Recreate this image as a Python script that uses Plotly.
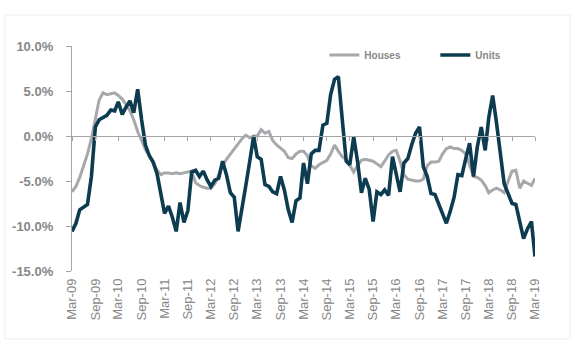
import plotly.graph_objects as go
import pandas as pd

months = pd.date_range("2009-03-01", periods=121, freq="MS")

houses = [
    -6.2, -5.6, -4.6, -3.4, -2.0, -0.3, 2.0, 4.0, 4.8, 4.6,
    4.7, 4.8, 4.5, 4.1, 3.5, 2.8, 1.8, 0.5, -0.5, -1.5,
    -2.2, -3.0, -3.8, -4.3, -4.1, -4.1, -4.2, -4.1, -4.2, -4.1,
    -4.0, -3.9, -5.2, -5.5, -5.7, -5.8, -5.8, -5.3, -4.3, -3.3,
    -2.6, -2.0, -1.4, -0.8, -0.3, 0.1, -0.2, 0.0, 0.0, 0.7,
    0.3, 0.5, -0.5, -1.0, -1.4, -1.7, -2.4, -2.5, -2.0, -1.7,
    -1.7, -2.2, -3.3, -3.6, -3.2, -2.9, -2.7, -2.0, -1.0, -1.7,
    -2.3, -2.6, -3.2, -4.0, -3.3, -2.7, -2.6, -2.7, -2.8, -3.1,
    -3.4, -2.8, -2.1, -1.7, -1.6, -2.8, -4.3, -4.8, -4.9, -5.0,
    -5.0, -4.8, -3.3, -2.9, -2.9, -2.8, -2.0, -1.4, -1.2, -1.4,
    -1.4, -1.6, -2.0, -3.2, -4.5, -4.6, -4.9, -5.5, -6.3, -6.0,
    -5.8, -6.0, -6.3, -5.0, -3.9, -3.8, -5.8, -5.0, -5.3, -5.5,
    -4.7,
]

units = [
    -10.6, -9.7, -8.2, -7.9, -7.6, -4.5, 1.0, 1.8, 2.1, 2.3,
    2.9, 2.8, 3.8, 2.4, 3.2, 3.9, 2.6, 5.2, 1.8, -1.0,
    -2.2, -2.9, -4.2, -6.5, -8.6, -7.8, -9.0, -10.6, -7.4, -9.6,
    -8.3, -4.0, -3.8, -4.5, -3.9, -4.9, -5.6, -4.9, -4.7, -2.8,
    -4.3, -6.3, -6.8, -10.6, -8.2, -5.5, -2.8, 0.0, -2.3, -2.6,
    -5.4, -5.6, -6.2, -6.4, -4.5, -6.0, -8.2, -9.6, -7.2, -6.9,
    -3.0, -5.3, -2.0, -1.6, -1.6, 1.2, 1.4, 4.6, 6.3, 6.6,
    1.8, -2.8, -3.2, -0.1, -2.8, -6.3, -4.7, -5.9, -9.5, -6.2,
    -6.5, -6.0, -6.6, -2.3, -4.2, -6.2, -3.0, -2.5, -1.0, 0.3,
    1.0, -3.4, -4.5, -6.4, -6.5, -7.6, -8.8, -9.7, -8.4, -6.8,
    -4.3, -4.4, -2.5, -0.8, -4.5, -1.2, 1.0, -1.6, 2.0, 4.5,
    1.5, -1.9, -5.3, -6.4, -7.5, -7.6, -9.7, -11.4, -10.3, -9.5,
    -13.4,
]

y_ticks = [-15, -10, -5, 0, 5, 10]
y_tick_labels = ["-15.0%", "-10.0%", "-5.0%", "0.0%", "5.0%", "10.0%"]

GREY = "#A6A8AB"
DARK = "#0D3B50"
TXT = "#878787"
FONT = "Arial, Liberation Sans, sans-serif"

fig = go.Figure()
fig.add_trace(go.Scatter(x=months, y=houses, name="Houses", mode="lines",
                         line=dict(color=GREY, width=3)))
fig.add_trace(go.Scatter(x=months, y=units, name="Units", mode="lines",
                         line=dict(color=DARK, width=3.6)))
# helper trace to host the zero-line axis with tick marks
fig.add_trace(go.Scatter(x=months, y=units, xaxis="x2", mode="lines",
                         line=dict(width=0, color="rgba(0,0,0,0)"),
                         showlegend=False, hoverinfo="skip"))

xr = [months[0], months[-1]]
fig.update_layout(
    width=580, height=352,
    margin=dict(l=72, r=45, t=46, b=81),
    paper_bgcolor="white", plot_bgcolor="white",
    font=dict(family=FONT, color=TXT),
    showlegend=True,
    legend=dict(orientation="h", x=0.545, y=0.96, xanchor="left", yanchor="middle",
                font=dict(size=10, color=TXT, family=FONT, weight="bold"),
                entrywidth=66, bgcolor="rgba(0,0,0,0)", traceorder="normal"),
    xaxis=dict(type="date", range=xr, tick0="2009-03-01", dtick="M6",
               tickformat="%b-%y", tickangle=-90, showgrid=False, zeroline=False,
               showline=False, ticks="", tickfont=dict(size=13, color=TXT, family=FONT),
               ticklabelstandoff=4),
    xaxis2=dict(type="date", range=xr, tick0="2009-03-01", dtick="M6",
                overlaying="x", anchor="free", position=0.6, side="bottom",
                showticklabels=False, ticks="outside", ticklen=4, tickwidth=1,
                tickcolor="#A6A6A6", showline=True, linecolor="#A6A6A6", linewidth=1.3,
                showgrid=False, zeroline=False),
    yaxis=dict(range=[-15, 10], tickvals=y_ticks, ticktext=y_tick_labels,
               showgrid=False, zeroline=False, showline=True, linecolor="#A6A6A6",
               linewidth=1.3, ticks="outside", ticklen=5, tickcolor="#A6A6A6",
               tickfont=dict(size=13, color=TXT, family=FONT, weight="bold"),
               ticklabelstandoff=10),
    shapes=[dict(type="rect", xref="paper", yref="paper",
                 x0=-0.145, x1=1.0756, y0=-0.302, y1=1.1378,
                 line=dict(color="#EDEDED", width=1), fillcolor="rgba(0,0,0,0)",
                 layer="below")],
)

fig.write_html("out.html")
